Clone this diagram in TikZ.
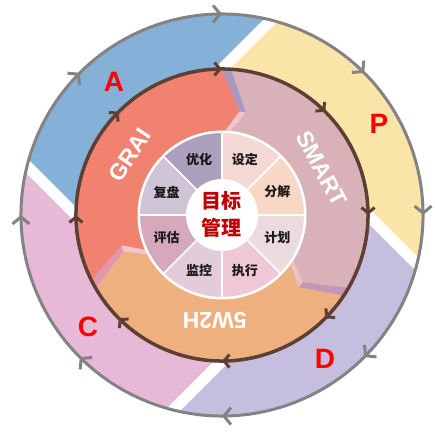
\documentclass[tikz,border=0pt]{standalone}
\usepackage{fontspec}
\setmainfont{Liberation Sans}
\newfontfamily\cjk{Noto Sans CJK SC}
\usetikzlibrary{arrows.meta,decorations.markings}

% outer band
\definecolor{bandA}{HTML}{85B0D8}
\definecolor{bandP}{HTML}{FAE4A8}
\definecolor{bandD}{HTML}{C5BEDE}
\definecolor{bandC}{HTML}{E8B9D6}
% middle ring
\definecolor{grai}{HTML}{F0826F}
\definecolor{smart}{HTML}{D8B2B8}
\definecolor{wtwoh}{HTML}{EDB07E}
% chevron shadows
\definecolor{shadeA}{HTML}{A898C4}
\definecolor{shadeB}{HTML}{F2C4C8}
\definecolor{shadeC}{HTML}{C496B8}
\definecolor{shadeD}{HTML}{EBC0C4}
\definecolor{shadeE}{HTML}{E496AE}
\definecolor{shadeF}{HTML}{F2C6CA}
% wheel segments
\definecolor{segA}{HTML}{F8D8C4}
\definecolor{segB}{HTML}{F3D8D4}
\definecolor{segC}{HTML}{ACA0BE}
\definecolor{segD}{HTML}{CEC4D6}
\definecolor{segE}{HTML}{D6A8BC}
\definecolor{segF}{HTML}{E2CCDA}
\definecolor{segG}{HTML}{EEC8D6}
\definecolor{segH}{HTML}{EBDADE}
% lines and text
\definecolor{ringgray}{HTML}{838383}
\definecolor{ringbrown}{HTML}{5C4033}
\definecolor{coretext}{HTML}{C00000}
\definecolor{pdcared}{HTML}{FF0000}

\tikzset{
  outerring/.style={draw=ringgray, line width=3pt, postaction={decorate},
    decoration={markings, mark=between positions 0.0625 and 1 step 0.125
      with {\arrow[ringgray, line width=3pt]{Straight Barb[length=7pt,width=17pt]}}}},
  innerring/.style={draw=ringbrown, line width=3.5pt, postaction={decorate},
    decoration={markings, mark=between positions 0.0625 and 1 step 0.125
      with {\arrow[ringbrown, line width=3pt]{Straight Barb[length=5.5pt,width=13pt]}}}},
  seglabel/.style={font=\cjk\bfseries\fontsize{13}{13}\selectfont, text=black!90, inner sep=0pt},
  corelabel/.style={font=\cjk\bfseries\fontsize{20}{27}\selectfont, text=coretext, align=center, inner sep=0pt},
  phaselabel/.style={font=\bfseries\fontsize{28}{28}\selectfont, text=pdcared, inner sep=0pt},
  methodlabel/.style={font=\bfseries\fontsize{23}{23}\selectfont, text=white, inner sep=0pt},
}

\begin{document}
\begin{tikzpicture}[x=1pt,y=1pt]
\useasboundingbox (-222,-216) rectangle (213,215);

% ---- outer band: four pinwheel sectors split by white stripes
\begin{scope}
  \clip (0,0) circle (201);
  \fill[bandA] (0,0) -- (0,146) -- (283,429) -- (-429,283) -- (-146,0) -- cycle;
  \fill[bandP] (0,0) -- (146,0) -- (429,-283) -- (283,429) -- (0,146) -- cycle;
  \fill[bandD] (0,0) -- (0,-146) -- (-283,-429) -- (429,-283) -- (146,0) -- cycle;
  \fill[bandC] (0,0) -- (-146,0) -- (-429,283) -- (-283,-429) -- (0,-146) -- cycle;
  \draw[white, line width=11pt] (0,146) -- (283,429);
  \draw[white, line width=11pt] (146,0) -- (429,-283);
  \draw[white, line width=11pt] (0,-146) -- (-283,-429);
  \draw[white, line width=11pt] (-146,0) -- (-429,283);
\end{scope}

% ---- middle ring: three chevron sectors
\fill[grai] (0,0) -- (92:75) -- (88.2:83.6) -- (80.3:105) -- (90:146)
  arc[start angle=90, end angle=210, radius=146]
  -- (200.3:105) -- (208.2:83.6) -- (212:75) -- cycle;
\fill[smart] (0,0) -- (-28:75) -- (-31.8:83.6) -- (-39.7:105) -- (-30:146)
  arc[start angle=-30, end angle=90, radius=146]
  -- (80.3:105) -- (88.2:83.6) -- (92:75) -- cycle;
\fill[wtwoh] (0,0) -- (212:75) -- (208.2:83.6) -- (200.3:105) -- (210:146)
  arc[start angle=210, end angle=330, radius=146]
  -- (320.3:105) -- (328.2:83.6) -- (332:75) -- cycle;

% shadows along each chevron tip
\fill[shadeA] (90:146) -- (80.3:105) -- (76.8:105) -- (86.5:146) -- cycle;
\fill[shadeB] (80.3:105) -- (88.2:83.6) -- (84.7:83.6) -- (76.8:105) -- cycle;
\fill[shadeC] (-30:146) -- (-39.7:105) -- (-43.2:105) -- (-33.5:146) -- cycle;
\fill[shadeD] (-39.7:105) -- (-31.8:83.6) -- (-35.3:83.6) -- (-43.2:105) -- cycle;
\fill[shadeE] (210:146) -- (200.3:105) -- (196.8:105) -- (206.5:146) -- cycle;
\fill[shadeF] (200.3:105) -- (208.2:83.6) -- (204.7:83.6) -- (196.8:105) -- cycle;

% ---- brown cycle ring
\path[innerring] (22.5:146) arc[start angle=22.5, end angle=-337.5, radius=146];

% ---- gray outer cycle ring
\path[outerring] (22.5:201) arc[start angle=22.5, end angle=-337.5, radius=201];

% ---- central wheel
\fill[white] (0,0) circle (84.5);
\fill[segA] (0,0) -- (0:83) arc[start angle=0, end angle=45, radius=83] -- cycle;
\fill[segB] (0,0) -- (45:83) arc[start angle=45, end angle=90, radius=83] -- cycle;
\fill[segC] (0,0) -- (90:83) arc[start angle=90, end angle=135, radius=83] -- cycle;
\fill[segD] (0,0) -- (135:83) arc[start angle=135, end angle=180, radius=83] -- cycle;
\fill[segE] (0,0) -- (180:83) arc[start angle=180, end angle=225, radius=83] -- cycle;
\fill[segF] (0,0) -- (225:83) arc[start angle=225, end angle=270, radius=83] -- cycle;
\fill[segG] (0,0) -- (270:83) arc[start angle=270, end angle=315, radius=83] -- cycle;
\fill[segH] (0,0) -- (315:83) arc[start angle=315, end angle=360, radius=83] -- cycle;
\foreach \a in {0,45,...,315} \draw[white, line width=1.5pt] (\a:30) -- (\a:83);
\draw[white, line width=2pt] (0,0) circle (83);
\fill[white] (0,0) circle (36);

% ---- wheel labels
\node[seglabel] (youhua) at (112.5:60) {优化};
\node[seglabel] (sheding) at (67.5:60) {设定};
\node[seglabel] (fenjie) at (22.5:60) {分解};
\node[seglabel] (jihua) at (-22.5:60) {计划};
\node[seglabel] (zhixing) at (-67.5:60) {执行};
\node[seglabel] (jiankong) at (-112.5:60) {监控};
\node[seglabel] (pinggu) at (202.5:60) {评估};
\node[seglabel] (fupan) at (157.5:60) {复盘};
\node[corelabel] (core) at (-1,1) {目标\\管理};

% ---- method names on the middle ring
\node[methodlabel, rotate=56] (grailabel) at (147:110) {GRAI};
\node[methodlabel, rotate=-62] (smartlabel) at (25:110) {SMART};
\node[methodlabel, rotate=180] (wtwohlabel) at (266:106) {5W2H};

% ---- cycle phase letters
\node[phaselabel] (phaseA) at (-108,133) {A};
\node[phaselabel] (phaseP) at (157,91) {P};
\node[phaselabel] (phaseD) at (103,-144) {D};
\node[phaselabel] (phaseC) at (-134,-112) {C};
\end{tikzpicture}
\end{document}
